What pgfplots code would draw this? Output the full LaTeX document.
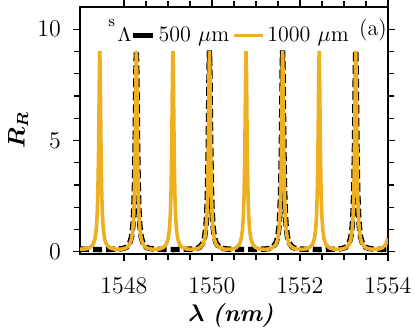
\documentclass[border=0pt]{standalone}
\usepackage{bm}
\usepackage{pgfplots}
\pgfplotsset{compat=1.18}
\definecolor{orangeC}{RGB}{238,176,32}
\tikzset{legendlen/.initial=12pt}
\begin{document}
\begin{tikzpicture}[font=\fontsize{12}{14}\selectfont]
\useasboundingbox (-40pt,-40pt) rectangle (167.5pt,127pt);
\begin{axis}[
  at={(0pt,0pt)}, anchor=south west,
  scale only axis,
  width=154pt, height=123.5pt,
  xmin=1547, xmax=1554, ymin=-0.1, ymax=11,
  xtick={1548,1550,1552,1554},
  minor x tick num=3,
  ytick={0,5,10},
  minor y tick num=4,
  tick align=outside,
  major tick length=3.5pt,
  minor tick length=3pt,
  tick style={black, line width=0.6pt},
  axis line style={line width=0.8pt},
  /pgf/number format/1000 sep={},
  tick label style={font=\fontsize{12}{14}\selectfont},
  xticklabel style={yshift=-5pt},
  yticklabel style={xshift=-2.5pt},
  xlabel={$\bm{\lambda}$ \textbf{\textit{(nm)}}},
  ylabel={$\bm{R_R}$},
  label style={font=\fontsize{12}{14}\selectfont},
  x label style={at={(axis description cs:0.49,-0.247)}, anchor=center},
  y label style={at={(axis description cs:-0.201,0.5)}, anchor=center},
  legend style={draw=none, fill=none, at={(0.163,0.883)}, anchor=west,
    inner sep=0pt, legend columns=2, font=\fontsize{11}{13}\selectfont,
    nodes={inner sep=1.5pt}},
  legend image code/.code={\draw[#1] (0pt,0pt) -- (\pgfkeysvalueof{/tikz/legendlen},0pt);},
  legend cell align=left,
]
\addlegendimage{black, line width=2.5pt, legendlen=10pt}
\addlegendentry{500 $\mu$m}
\addlegendimage{orangeC, line width=1.5pt, legendlen=14.5pt}
\addlegendentry{1000 $\mu$m}
\addplot[black, line width=2.7pt, dash pattern=on 4.5pt off 2pt, forget plot] coordinates {
(1547.000,0.12) (1547.450,0.10) (1547.866,0.12)
(1547.981,0.15) (1548.061,0.21) (1548.131,0.40) (1548.171,0.67) (1548.201,1.16) (1548.221,1.85) (1548.236,2.82) (1548.251,4.55) (1548.261,6.28) (1548.271,8.15) (1548.281,9.05)
(1548.291,8.15) (1548.301,6.28) (1548.311,4.55) (1548.326,2.82) (1548.341,1.85) (1548.361,1.16) (1548.391,0.67) (1548.431,0.40) (1548.501,0.21) (1548.581,0.15)
(1548.696,0.12) (1549.112,0.10) (1549.528,0.12)
(1549.643,0.15) (1549.723,0.21) (1549.793,0.40) (1549.833,0.67) (1549.863,1.16) (1549.883,1.85) (1549.898,2.82) (1549.913,4.55) (1549.923,6.28) (1549.933,8.15) (1549.943,9.05)
(1549.953,8.15) (1549.963,6.28) (1549.973,4.55) (1549.988,2.82) (1550.003,1.85) (1550.023,1.16) (1550.053,0.67) (1550.093,0.40) (1550.163,0.21) (1550.243,0.15)
(1550.358,0.12) (1550.774,0.10) (1551.190,0.12)
(1551.305,0.15) (1551.385,0.21) (1551.455,0.40) (1551.495,0.67) (1551.525,1.16) (1551.545,1.85) (1551.560,2.82) (1551.575,4.55) (1551.585,6.28) (1551.595,8.15) (1551.605,9.05)
(1551.615,8.15) (1551.625,6.28) (1551.635,4.55) (1551.650,2.82) (1551.665,1.85) (1551.685,1.16) (1551.715,0.67) (1551.755,0.40) (1551.825,0.21) (1551.905,0.15)
(1552.020,0.12) (1552.436,0.10) (1552.852,0.12)
(1552.967,0.15) (1553.047,0.21) (1553.117,0.40) (1553.157,0.67) (1553.187,1.16) (1553.207,1.85) (1553.222,2.82) (1553.237,4.55) (1553.247,6.28) (1553.257,8.15) (1553.267,9.05)
(1553.277,8.15) (1553.287,6.28) (1553.297,4.55) (1553.312,2.82) (1553.327,1.85) (1553.347,1.16) (1553.377,0.67) (1553.417,0.40) (1553.487,0.21) (1553.567,0.15)
(1553.682,0.12) (1554.000,0.10)
};
\addplot[orangeC, line width=1.8pt, forget plot] coordinates {
(1547.000,0.12)
(1547.150,0.13) (1547.230,0.19) (1547.300,0.34) (1547.340,0.58) (1547.370,1.01) (1547.390,1.64) (1547.405,2.54) (1547.420,4.22) (1547.430,5.99) (1547.440,8.01) (1547.450,9.03)
(1547.460,8.01) (1547.470,5.99) (1547.480,4.22) (1547.495,2.54) (1547.510,1.64) (1547.530,1.01) (1547.560,0.58) (1547.600,0.34) (1547.670,0.19) (1547.750,0.13)
(1547.866,0.11)
(1547.981,0.13) (1548.061,0.19) (1548.131,0.34) (1548.171,0.58) (1548.201,1.01) (1548.221,1.64) (1548.236,2.54) (1548.251,4.22) (1548.261,5.99) (1548.271,8.01) (1548.281,9.03)
(1548.291,8.01) (1548.301,5.99) (1548.311,4.22) (1548.326,2.54) (1548.341,1.64) (1548.361,1.01) (1548.391,0.58) (1548.431,0.34) (1548.501,0.19) (1548.581,0.13)
(1548.697,0.11)
(1548.812,0.13) (1548.892,0.19) (1548.962,0.34) (1549.002,0.58) (1549.032,1.01) (1549.052,1.64) (1549.067,2.54) (1549.082,4.22) (1549.092,5.99) (1549.102,8.01) (1549.112,9.03)
(1549.122,8.01) (1549.132,5.99) (1549.142,4.22) (1549.157,2.54) (1549.172,1.64) (1549.192,1.01) (1549.222,0.58) (1549.262,0.34) (1549.332,0.19) (1549.412,0.13)
(1549.528,0.11)
(1549.643,0.13) (1549.723,0.19) (1549.793,0.34) (1549.833,0.58) (1549.863,1.01) (1549.883,1.64) (1549.898,2.54) (1549.913,4.22) (1549.923,5.99) (1549.933,8.01) (1549.943,9.03)
(1549.953,8.01) (1549.963,5.99) (1549.973,4.22) (1549.988,2.54) (1550.003,1.64) (1550.023,1.01) (1550.053,0.58) (1550.093,0.34) (1550.163,0.19) (1550.243,0.13)
(1550.359,0.11)
(1550.474,0.13) (1550.554,0.19) (1550.624,0.34) (1550.664,0.58) (1550.694,1.01) (1550.714,1.64) (1550.729,2.54) (1550.744,4.22) (1550.754,5.99) (1550.764,8.01) (1550.774,9.03)
(1550.784,8.01) (1550.794,5.99) (1550.804,4.22) (1550.819,2.54) (1550.834,1.64) (1550.854,1.01) (1550.884,0.58) (1550.924,0.34) (1550.994,0.19) (1551.074,0.13)
(1551.190,0.11)
(1551.305,0.13) (1551.385,0.19) (1551.455,0.34) (1551.495,0.58) (1551.525,1.01) (1551.545,1.64) (1551.560,2.54) (1551.575,4.22) (1551.585,5.99) (1551.595,8.01) (1551.605,9.03)
(1551.615,8.01) (1551.625,5.99) (1551.635,4.22) (1551.650,2.54) (1551.665,1.64) (1551.685,1.01) (1551.715,0.58) (1551.755,0.34) (1551.825,0.19) (1551.905,0.13)
(1552.021,0.11)
(1552.136,0.13) (1552.216,0.19) (1552.286,0.34) (1552.326,0.58) (1552.356,1.01) (1552.376,1.64) (1552.391,2.54) (1552.406,4.22) (1552.416,5.99) (1552.426,8.01) (1552.436,9.03)
(1552.446,8.01) (1552.456,5.99) (1552.466,4.22) (1552.481,2.54) (1552.496,1.64) (1552.516,1.01) (1552.546,0.58) (1552.586,0.34) (1552.656,0.19) (1552.736,0.13)
(1552.852,0.11)
(1552.967,0.13) (1553.047,0.19) (1553.117,0.34) (1553.157,0.58) (1553.187,1.01) (1553.207,1.64) (1553.222,2.54) (1553.237,4.22) (1553.247,5.99) (1553.257,8.01) (1553.267,9.03)
(1553.277,8.01) (1553.287,5.99) (1553.297,4.22) (1553.312,2.54) (1553.327,1.64) (1553.347,1.01) (1553.377,0.58) (1553.417,0.34) (1553.487,0.19) (1553.567,0.13)
(1553.683,0.11) (1553.800,0.13) (1553.880,0.19) (1553.950,0.34) (1554.000,0.60)
};
\node[anchor=base west, inner sep=0pt] at (rel axis cs:0.091,0.862) {\fontsize{8}{9}\selectfont\raisebox{7.5pt}{s}\hspace{1.2pt}\fontsize{10}{12}\selectfont$\Lambda$};
\node[font=\fontsize{11}{13}\selectfont] at (rel axis cs:0.951,0.907) {\mbox{(a)}};
\end{axis}
\end{tikzpicture}
\end{document}
